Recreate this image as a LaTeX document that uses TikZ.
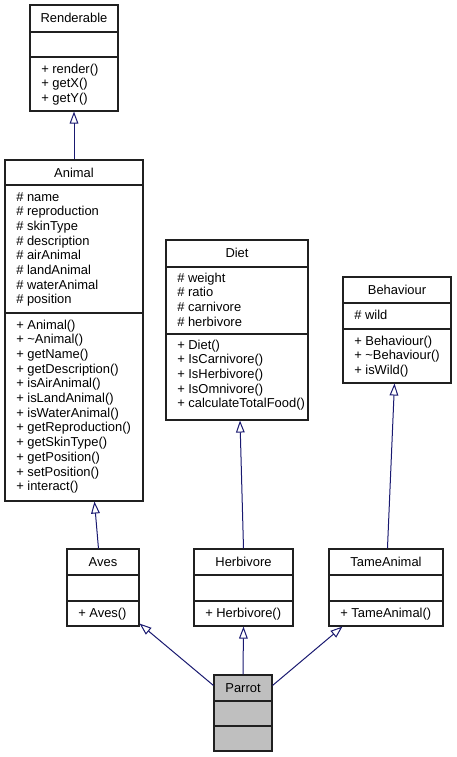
\documentclass[tikz,border=0pt]{standalone}
\usepackage{fontspec}
\setmainfont{Liberation Sans}
\usetikzlibrary{arrows.meta,fit,calc}
\definecolor{edgeblue}{HTML}{191970}
\definecolor{parrotgrey}{HTML}{BFBFBF}
\definecolor{boxline}{HTML}{202020}
\begin{document}
\begin{tikzpicture}[x=0.75pt,y=-0.75pt,
  cls/.style={draw=boxline, line width=0.8pt, inner sep=0pt, fill=white},
  div/.style={draw=boxline, line width=0.8pt},
  txt/.style={font=\fontsize{9.7}{11}\selectfont, inner sep=0pt, anchor=base west},
  ttl/.style={font=\fontsize{9.7}{11}\selectfont, inner sep=0pt, anchor=base},
  inh/.style={draw=edgeblue, line width=0.75pt, -{Triangle[open, length=9pt, width=6.5pt]}}]
\useasboundingbox (0,0) rectangle (457,757);

% Renderable
\node[cls, fit={(30,5) (118,111)}] (ren) {};
\draw[div] (30,32) -- (118,32);
\draw[div] (30,57) -- (118,57);
\node[ttl] (ren-t) at (74,22) {Renderable};
\foreach \t [count=\i from 0] in {+ render(), + getX(), + getY()}
  \node[txt] (ren-m\i) at (41,{73+\i*14.7}) {\t};

% Animal
\node[cls, fit={(5,160) (143,501)}] (ani) {};
\draw[div] (5,185) -- (143,185);
\draw[div] (5,313) -- (143,313);
\node[ttl] (ani-t) at (74,177) {Animal};
\foreach \t [count=\i from 0] in {\# name, \# reproduction, \# skinType, \# description, \# airAnimal, \# landAnimal, \# waterAnimal, \# position}
  \node[txt] (ani-a\i) at (16,{201+\i*14.7}) {\t};
\foreach \t [count=\i from 0] in {+ Animal(), + \textasciitilde Animal(), + getName(), + getDescription(), + isAirAnimal(), + isLandAnimal(), + isWaterAnimal(), + getReproduction(), + getSkinType(), + getPosition(), + setPosition(), + interact()}
  \node[txt] (ani-m\i) at (16,{329+\i*14.7}) {\t};

% Diet
\node[cls, fit={(166,240) (308,420)}] (die) {};
\draw[div] (166,267) -- (308,267);
\draw[div] (166,334) -- (308,334);
\node[ttl] (die-t) at (237,257) {Diet};
\foreach \t [count=\i from 0] in {\# weight, \# ratio, \# carnivore, \# herbivore}
  \node[txt] (die-a\i) at (177,{282+\i*14.7}) {\t};
\foreach \t [count=\i from 0] in {+ Diet(), + IsCarnivore(), + IsHerbivore(), + IsOmnivore(), + calculateTotalFood()}
  \node[txt] (die-m\i) at (177,{349+\i*14.7}) {\t};

% Behaviour
\node[cls, fit={(343,277) (451,383)}] (beh) {};
\draw[div] (343,303) -- (451,303);
\draw[div] (343,329) -- (451,329);
\node[ttl] (beh-t) at (397,294) {Behaviour};
\node[txt] (beh-a0) at (354,319) {\# wild};
\foreach \t [count=\i from 0] in {+ Behaviour(), + \textasciitilde Behaviour(), + isWild()}
  \node[txt] (beh-m\i) at (354,{345+\i*14.7}) {\t};

% Aves
\node[cls, fit={(67,549) (139,626)}] (ave) {};
\draw[div] (67,575) -- (139,575);
\draw[div] (67,601) -- (139,601);
\node[ttl] (ave-t) at (103,566) {Aves};
\node[txt] (ave-m0) at (78,617) {+ Aves()};

% Herbivore
\node[cls, fit={(194,549) (293,626)}] (her) {};
\draw[div] (194,575) -- (293,575);
\draw[div] (194,601) -- (293,601);
\node[ttl] (her-t) at (243.5,566) {Herbivore};
\node[txt] (her-m0) at (205,617) {+ Herbivore()};

% TameAnimal
\node[cls, fit={(329,549) (443,626)}] (tam) {};
\draw[div] (329,575) -- (443,575);
\draw[div] (329,601) -- (443,601);
\node[ttl] (tam-t) at (386,566) {TameAnimal};
\node[txt] (tam-m0) at (340,617) {+ TameAnimal()};

% Parrot
\node[cls, fill=parrotgrey, fit={(214,675) (272,751)}] (par) {};
\draw[div] (214,701) -- (272,701);
\draw[div] (214,726) -- (272,726);
\node[ttl] (par-t) at (243,692) {Parrot};

% Inheritance connectors
\draw[inh] (ani.north) -- (ren.south);
\draw[inh] ($(ave.north west)+(32,0)$) -- ($(ani.south west)+(90,0)$);
\draw[inh] (her.north) -- ($(die.south)+(3,0)$);
\draw[inh] ($(tam.north west)+(59,0)$) -- ($(beh.south west)+(52,0)$);
\draw[inh] ($(par.north west)+(0,11)$) -- ($(ave.south east)+(0,-3)$);
\draw[inh] (par.north) -- (her.south);
\draw[inh] ($(par.north east)+(0,11)$) -- ($(tam.south west)+(14,0)$);
\end{tikzpicture}
\end{document}
